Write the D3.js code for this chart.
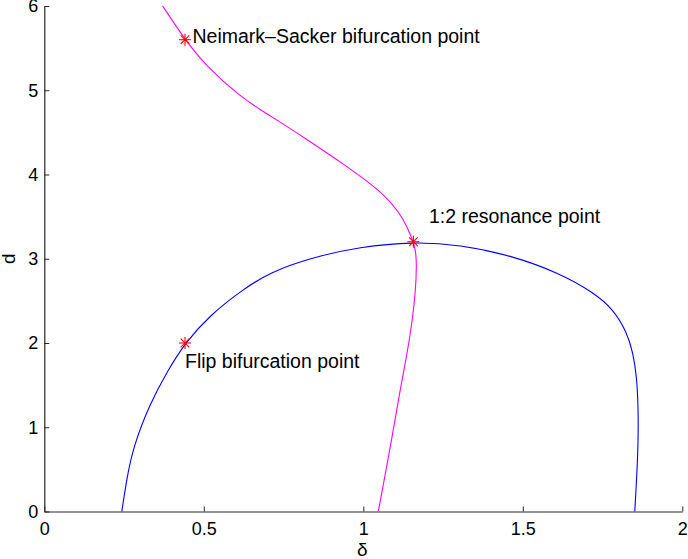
<!DOCTYPE html>
<html>
<head>
<meta charset="utf-8">
<script src="https://cdn.jsdelivr.net/npm/d3@7"></script>
<style>
  html, body { margin: 0; padding: 0; background: #fff; }
  svg { display: block; font-family: "Liberation Sans", Arial, Helvetica, sans-serif; }
</style>
</head>
<body>
<svg id="chart" width="688" height="559"></svg>
<script>
// Flip bifurcation curve (blue): [delta, d]
const flipCurve = [
  [0.243, 0.0], [0.258, 0.38], [0.279, 0.77], [0.331, 1.28], [0.385, 1.66], [0.441, 2.0],
  [0.519, 2.33], [0.624, 2.64], [0.708, 2.84], [0.833, 3.01], [0.990, 3.143], [1.157, 3.202],
  [1.303, 3.165], [1.460, 3.044], [1.617, 2.827], [1.721, 2.60], [1.784, 2.40],
  [1.826, 2.13], [1.846, 1.878], [1.857, 1.60], [1.862, 1.244], [1.862, 0.73],
  [1.851, 0.0]
];
// Neimark-Sacker curve (magenta): [delta, d]
const nsCurve = [
  [0.371, 6.0], [0.441, 5.6], [0.509, 5.28], [0.613, 4.93], [0.681, 4.76],
  [0.729, 4.647], [0.802, 4.469], [0.958, 4.074], [1.063, 3.777], [1.115, 3.539],
  [1.137, 3.38], [1.157, 3.202], [1.164, 3.09], [1.167, 2.96], [1.165, 2.629],
  [1.146, 2.036], [1.115, 1.442], [1.089, 0.849], [1.047, 0.0]
];
// Special points and their labels
const specialPoints = [
  { x: 0.441, y: 5.6,   label: "Neimark\u2013Sacker bifurcation point" },
  { x: 1.157, y: 3.202, label: "1:2 resonance point" },
  { x: 0.441, y: 2.0,   label: "Flip bifurcation point" }
];
const xTicks = [0, 0.5, 1, 1.5, 2];
const xTickLabels = ["0", "0.5", "1", "1.5", "2"];
const yTicks = [0, 1, 2, 3, 4, 5, 6];
const xLabel = "\u03b4";
const yLabel = "d";

const svg = d3.select("#chart");
const x = d3.scaleLinear().domain([0, 2]).range([44.3, 682.3]);
const y = d3.scaleLinear().domain([0, 6]).range([511.5, 6]);

// Axes
const xAxis = d3.axisBottom(x).tickValues(xTicks)
  .tickFormat((d, i) => xTickLabels[i]).tickSizeInner(-5).tickSizeOuter(0).tickPadding(11);
const yAxis = d3.axisLeft(y).tickValues(yTicks)
  .tickFormat(d3.format("d")).tickSizeInner(-5).tickSizeOuter(0).tickPadding(6);

const gx = svg.append("g").attr("transform", `translate(0,${y(0)})`).call(xAxis);
const gy = svg.append("g").attr("transform", `translate(${x(0)},0)`).call(yAxis);
[gx, gy].forEach(g => {
  g.select(".domain").attr("stroke", "#262626").attr("stroke-width", 1.2);
  g.selectAll(".tick line").attr("stroke", "#262626");
  g.selectAll(".tick text").attr("fill", "#000").style("font-size", "18px")
    .style("font-family", "'Liberation Sans', Arial, Helvetica, sans-serif");
});

// Curves
const line = d3.line().x(d => x(d[0])).y(d => y(d[1])).curve(d3.curveBasis);
svg.append("path").datum(flipCurve).attr("d", line)
  .attr("fill", "none").attr("stroke", "#0000ff").attr("stroke-width", 1.1);
svg.append("path").datum(nsCurve).attr("d", line)
  .attr("fill", "none").attr("stroke", "#ff00ff").attr("stroke-width", 1.1);

// Asterisk markers
const r = 6, rd = 4.3;
const mk = svg.append("g").selectAll("g").data(specialPoints).join("g")
  .attr("transform", d => `translate(${x(d.x)},${y(d.y)})`)
  .attr("stroke", "#ff0000").attr("stroke-width", 1.1);
mk.append("line").attr("x1", -r).attr("x2", r).attr("y1", 0).attr("y2", 0);
mk.append("line").attr("x1", 0).attr("x2", 0).attr("y1", -r).attr("y2", r);
mk.append("line").attr("x1", -rd).attr("x2", rd).attr("y1", -rd).attr("y2", rd);
mk.append("line").attr("x1", -rd).attr("x2", rd).attr("y1", rd).attr("y2", -rd);

// Labels (offsets in pixels relative to the marked point)
const labelOffsets = [[7.5, 3], [15.5, -18.5], [0, 25]];
svg.append("g").selectAll("text").data(specialPoints).join("text")
  .attr("x", (d, i) => x(d.x) + labelOffsets[i][0])
  .attr("y", (d, i) => y(d.y) + labelOffsets[i][1])
  .style("font-size", "19.5px").attr("fill", "#000")
  .text(d => d.label);

// Axis labels
svg.append("text").attr("x", x(1) - 1).attr("y", 556)
  .attr("text-anchor", "middle").style("font-size", "19px").text(xLabel);
svg.append("text").attr("transform", `translate(15,${y(3)}) rotate(-90)`)
  .attr("text-anchor", "middle").style("font-size", "19px").text(yLabel);
</script>
</body>
</html>
